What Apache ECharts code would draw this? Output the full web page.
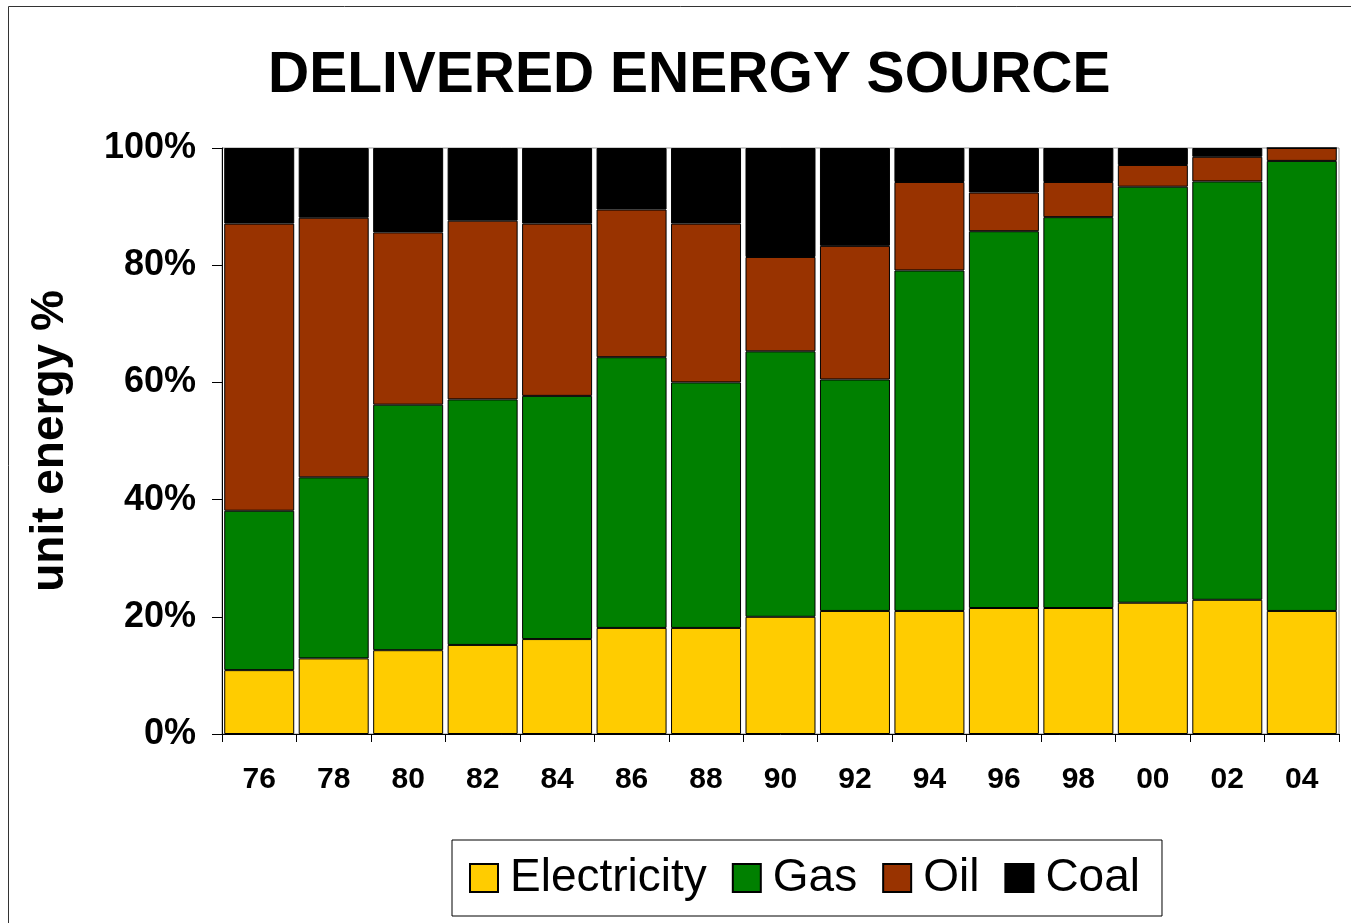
<!DOCTYPE html>
<html>
<head>
<meta charset="utf-8">
<script src="https://cdn.jsdelivr.net/npm/echarts@6/dist/echarts.min.js"></script>
<style>
html,body{margin:0;padding:0;background:#fff;}
#chart{width:1351px;height:923px;}
</style>
</head>
<body>
<div id="chart"></div>
<script>
var categories = ['76','78','80','82','84','86','88','90','92','94','96','98','00','02','04'];
var electricity = [10.9, 12.9, 14.3, 15.2, 16.2, 18.1, 18.1, 20.0, 21.0, 21.0, 21.5, 21.5, 22.4, 22.9, 21.0];
var gas         = [27.2, 30.9, 41.9, 41.9, 41.5, 46.2, 41.9, 45.3, 39.5, 58.1, 64.3, 66.7, 71.0, 71.4, 76.8];
var oil         = [49.0, 44.3, 29.4, 30.5, 29.4, 25.2, 27.1, 16.1, 22.8, 15.1, 6.6, 6.0, 3.7, 4.2, 2.2];
var coal        = [12.9, 11.9, 14.4, 12.4, 12.9, 10.5, 12.9, 18.6, 16.7, 5.8, 7.6, 5.8, 2.9, 1.5, 0.0];
var seriesNames = ['Electricity', 'Gas', 'Oil', 'Coal'];
var seriesColors = ['#FFCC00', '#008000', '#993300', '#000000'];

var FONT = "'Liberation Sans', Arial, sans-serif";
var chart = echarts.init(document.getElementById('chart'), null, {renderer: 'canvas'});

function mk(name, data, color) {
  return {
    name: name,
    type: 'bar',
    stack: 'total',
    data: data,
    barCategoryGap: '6%',
    itemStyle: {color: color, borderColor: '#000', borderWidth: 1},
    emphasis: {disabled: true}
  };
}

var option = {
  animation: false,
  backgroundColor: '#fff',
  textStyle: {fontFamily: FONT},
  graphic: [{
    type: 'rect',
    shape: {x: 8.5, y: 6.5, width: 1400, height: 1000},
    style: {fill: 'none', stroke: '#333', lineWidth: 1},
    silent: true,
    z: -10
  }],
  title: {
    text: 'DELIVERED ENERGY SOURCE',
    left: 268,
    top: 48,
    padding: 0,
    textStyle: {fontFamily: FONT, fontSize: 57, fontWeight: 'bold', color: '#000'}
  },
  legend: {
    data: seriesNames,
    left: 452,
    top: 840,
    orient: 'horizontal',
    padding: [14, 22, 14, 17],
    borderColor: '#000',
    borderWidth: 1,
    itemWidth: 28,
    itemHeight: 28,
    itemGap: 25,
    icon: 'rect',
    textStyle: {fontFamily: FONT, fontSize: 46, color: '#000', padding: [0, 0, 0, 7], lineHeight: 48}
  },
  grid: {
    left: 222,
    right: 12,
    top: 148,
    bottom: 189,
    show: true,
    borderColor: '#999',
    borderWidth: 1,
    backgroundColor: 'transparent'
  },
  xAxis: {
    type: 'category',
    data: categories,
    axisLine: {lineStyle: {color: '#000', width: 1}},
    axisTick: {show: true, length: 8, lineStyle: {color: '#000'}},
    axisLabel: {fontFamily: FONT, fontSize: 30, fontWeight: 'bold', color: '#000', margin: 31},
    splitLine: {show: false}
  },
  yAxis: {
    type: 'value',
    min: 0,
    max: 100,
    interval: 20,
    name: 'unit energy %',
    nameLocation: 'middle',
    nameGap: 149,
    nameTextStyle: {fontFamily: FONT, fontSize: 46, fontWeight: 'bold', color: '#000'},
    axisLine: {show: true, lineStyle: {color: '#000', width: 1}},
    axisTick: {show: true, length: 10, lineStyle: {color: '#000'}},
    axisLabel: {fontFamily: FONT, fontSize: 36, fontWeight: 'bold', color: '#000', margin: 26, formatter: '{value}%'},
    splitLine: {show: false}
  },
  series: [
    mk(seriesNames[0], electricity, seriesColors[0]),
    mk(seriesNames[1], gas, seriesColors[1]),
    mk(seriesNames[2], oil, seriesColors[2]),
    mk(seriesNames[3], coal, seriesColors[3])
  ]
};
chart.setOption(option);
</script>
</body>
</html>
